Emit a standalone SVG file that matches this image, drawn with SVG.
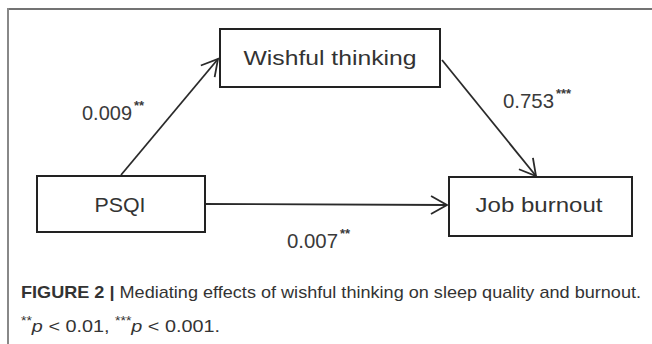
<svg xmlns="http://www.w3.org/2000/svg" width="652" height="344" viewBox="0 0 652 344">
<defs>
<style>
.box{fill:#fff;stroke:#222;stroke-width:2}
.lbl{font-family:"Liberation Sans",Arial,sans-serif;font-size:21px;fill:#333;text-anchor:middle}
.num{font-family:"Liberation Sans",Arial,sans-serif;font-size:21px;fill:#3a3a3a}
.sup{font-family:"Liberation Sans",Arial,sans-serif;font-size:13px;font-weight:bold;fill:#3a3a3a}
.edge{fill:none;stroke:#2a2a2a;stroke-width:1.8;marker-end:url(#arr)}
.cap{font-family:"Liberation Sans",Arial,sans-serif;font-size:17px;fill:#333}
</style>
<marker id="arr" markerUnits="userSpaceOnUse" markerWidth="24" markerHeight="24" viewBox="-18 -12 20 24" refX="0" refY="0" orient="auto">
<path d="M-16,-9 L0,0 L-16,9" fill="none" stroke="#2a2a2a" stroke-width="1.8"/>
</marker>
</defs>
<rect x="0" y="0" width="652" height="344" fill="#fff"/>
<line x1="8" y1="9" x2="652" y2="9" stroke="#444" stroke-width="1.5"/>
<line x1="8" y1="8" x2="8" y2="344" stroke="#888" stroke-width="2"/>
<g id="connectors">
<line class="edge" x1="121" y1="175" x2="218" y2="59"/>
<line class="edge" x1="442" y1="60" x2="536" y2="176"/>
<line class="edge" x1="205" y1="204" x2="447" y2="205"/>
</g>
<g id="node-wishful">
<rect class="box" x="220" y="29" width="220" height="58"/>
<text class="lbl" x="330" y="65" textLength="173" lengthAdjust="spacingAndGlyphs">Wishful thinking</text>
</g>
<g id="node-psqi">
<rect class="box" x="37" y="176" width="168" height="56"/>
<text class="lbl" x="120" y="212" textLength="51" lengthAdjust="spacingAndGlyphs">PSQI</text>
</g>
<g id="node-job">
<rect class="box" x="449" y="177" width="183" height="59"/>
<text class="lbl" x="539" y="212" textLength="127" lengthAdjust="spacingAndGlyphs">Job burnout</text>
</g>
<g id="labels">
<text class="num" x="82" y="120" textLength="50" lengthAdjust="spacingAndGlyphs">0.009</text>
<text class="sup" x="134" y="110">**</text>
<text class="num" x="503" y="108" textLength="51" lengthAdjust="spacingAndGlyphs">0.753</text>
<text class="sup" x="556" y="98">***</text>
<text class="num" x="287" y="248" textLength="51" lengthAdjust="spacingAndGlyphs">0.007</text>
<text class="sup" x="340" y="238">**</text>
</g>
<g id="caption">
<text class="cap" x="21" y="298" textLength="620" lengthAdjust="spacingAndGlyphs"><tspan font-weight="bold">FIGURE 2 |</tspan> Mediating effects of wishful thinking on sleep quality and burnout.</text>
<text class="cap" x="21" y="332" textLength="199" lengthAdjust="spacingAndGlyphs"><tspan font-size="12" dy="-7">**</tspan><tspan font-style="italic" dy="7">p</tspan> &lt; 0.01, <tspan font-size="12" dy="-7">***</tspan><tspan font-style="italic" dy="7">p</tspan> &lt; 0.001.</text>
</g>
</svg>
